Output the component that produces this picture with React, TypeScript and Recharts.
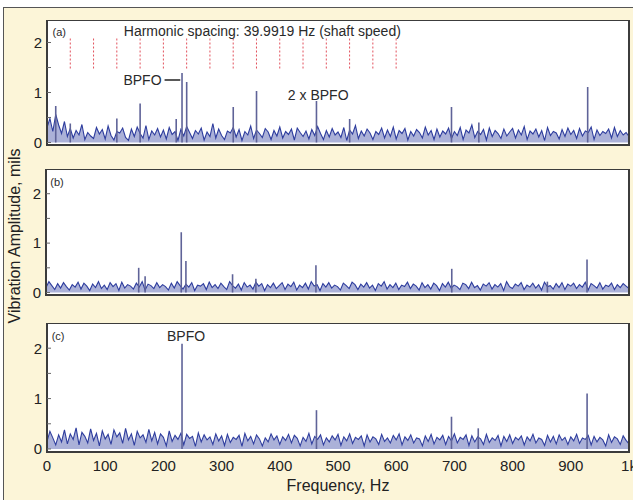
import React from 'react';
import {
  ComposedChart,
  Area,
  XAxis,
  YAxis,
  ReferenceLine,
  ReferenceArea,
  ReferenceDot,
  CartesianGrid,
} from 'recharts';

// ---------- data ----------
const FREQ_STEP = 5; // Hz between noise-floor samples

// noise floor amplitudes, in hundredths of a mil, one value every 5 Hz from 0 to 1000 Hz
const noiseA = [
  30, 48, 22, 56, 35, 18, 42, 12, 28, 9, 24, 15, 36, 6, 20, 13, 8, 30, 17, 26,
  7, 33, 14, 5, 22, 19, 29, 10, 4, 27, 12, 31, 18, 9, 34, 6, 23, 15, 28, 11,
  25, 7, 30, 16, 22, 4, 26, 13, 32, 20, 8, 24, 17, 29, 5, 21, 12, 38, 9, 27,
  14, 6, 23, 19, 30, 11, 26, 4, 22, 15, 33, 8, 25, 18, 10, 28, 21, 6, 24, 13,
  31, 9, 22, 16, 27, 5, 29, 20, 12, 23, 7, 26, 14, 32, 18, 6, 24, 11, 28, 15,
  21, 10, 30, 4, 25, 17, 34, 8, 23, 13, 27, 19, 6, 22, 16, 29, 9, 25, 12, 31,
  7, 24, 18, 28, 5, 22, 13, 26, 20, 9, 31, 15, 24, 6, 27, 11, 23, 17, 29, 8,
  22, 14, 30, 6, 25, 19, 35, 10, 22, 16, 26, 5, 29, 12, 24, 18, 8, 27, 13, 21,
  28, 9, 25, 15, 32, 6, 23, 17, 27, 11, 24, 4, 30, 14, 22, 19, 7, 26, 12, 29,
  16, 24, 8, 28, 13, 23, 20, 31, 6, 25, 14, 22, 18, 27, 9, 30, 12, 24, 15, 20,
  12,
];

const noiseB = [
  10, 22, 14, 6, 18, 9, 20, 12, 5, 16, 11, 21, 7, 19, 13, 4, 17, 10, 22, 8,
  15, 6, 20, 12, 18, 4, 21, 9, 16, 13, 7, 19, 11, 22, 5, 17, 14, 8, 20, 10,
  16, 12, 5, 19, 9, 22, 14, 7, 17, 11, 20, 4, 15, 13, 18, 6, 21, 10, 16, 8,
  19, 12, 6, 22, 14, 9, 17, 5, 20, 11, 15, 7, 21, 13, 18, 4, 16, 10, 19, 8,
  14, 20, 6, 17, 12, 21, 5, 15, 10, 19, 7, 22, 13, 16, 4, 18, 11, 20, 9, 15,
  12, 5, 19, 14, 8, 21, 16, 6, 17, 11, 20, 9, 15, 4, 18, 13, 22, 7, 16, 10,
  19, 6, 15, 12, 21, 8, 17, 13, 5, 20, 10, 16, 7, 19, 14, 4, 18, 11, 21, 9,
  15, 12, 6, 19, 16, 8, 21, 10, 14, 5, 17, 13, 20, 7, 16, 11, 18, 4, 22, 12,
  8, 17, 13, 20, 6, 15, 11, 19, 9, 16, 5, 21, 12, 14, 7, 18, 10, 20, 6, 17,
  13, 19, 8, 16, 11, 21, 5, 18, 14, 9, 20, 7, 15, 12, 19, 6, 16, 10, 18, 13,
  8,
];

const noiseC = [
  15, 35, 22, 8, 28, 14, 38, 10, 30, 19, 42, 8, 33, 25, 12, 40, 17, 31, 6, 36,
  20, 29, 9, 38, 24, 32, 11, 41, 18, 30, 7, 35, 22, 28, 13, 39, 16, 33, 10, 30,
  23, 6, 36, 15, 27, 19, 31, 8, 29, 21, 25, 5, 32, 14, 28, 18, 24, 9, 30, 16,
  26, 7, 29, 13, 23, 19, 27, 5, 31, 16, 25, 10, 28, 20, 6, 22, 14, 30, 18, 26,
  9, 24, 17, 29, 12, 27, 21, 6, 23, 15, 31, 10, 25, 19, 28, 8, 22, 14, 26, 18,
  29, 7, 24, 16, 30, 11, 23, 19, 26, 6, 28, 14, 24, 20, 9, 29, 15, 22, 12, 27,
  18, 30, 8, 24, 17, 28, 12, 22, 20, 6, 26, 15, 29, 10, 23, 18, 27, 9, 25, 16,
  30, 12, 23, 19, 28, 7, 26, 14, 24, 20, 9, 29, 13, 22, 17, 27, 6, 25, 15, 28,
  11, 23, 18, 26, 8, 24, 16, 29, 12, 22, 19, 7, 27, 14, 25, 10, 28, 17, 23, 9,
  24, 16, 29, 11, 22, 19, 27, 8, 25, 14, 23, 18, 6, 28, 13, 24, 20, 9, 26, 17,
  10,
];

// discrete spectral lines: [frequency Hz, amplitude mils]
const peaksA: [number, number][] = [
  [15, 0.73], [40, 0.38], [120, 0.48], [160, 0.78], [222, 0.47], [232, 1.39],
  [240, 1.21], [320, 0.71], [360, 1.03], [463, 0.83], [520, 0.47], [695, 0.71],
  [742, 0.4], [929, 1.11],
];
const peaksB: [number, number][] = [
  [159, 0.5], [170, 0.33], [232, 1.22], [240, 0.64], [320, 0.37], [360, 0.28],
  [463, 0.55], [696, 0.48], [860, 0.22], [928, 0.67],
];
const peaksC: [number, number][] = [
  [232, 2.09], [463, 0.77], [695, 0.64], [741, 0.41], [928, 1.1],
];

const harmonicSpacing = 39.9919;
const harmonicOrders = [1, 2, 3, 4, 5, 6, 7, 8, 9, 10, 11, 12, 13, 14, 15];
const harmonicRange: [number, number] = [1.48, 2.08];

const xTicks = [0, 100, 200, 300, 400, 500, 600, 700, 800, 900, 1000];
const xTickLabels = ['0', '100', '200', '300', '400', '500', '600', '700', '800', '900', '1k'];
const yTicks = [0, 0.5, 1, 1.5, 2];

// ---------- styling ----------
const FONT = '"Liberation Sans", Arial, sans-serif';
const NOISE_COLOR = '#2e3d9e';
const PEAK_COLOR = '#5f6398';
const FRAME_COLOR = '#3c3c3c';
const TEXT_COLOR = '#222';

const toSeries = (noise: number[]) => noise.map((v, i) => ({ f: i * FREQ_STEP, v: v / 100 }));

type Note = { x: number; y: number; text: string; size: number; position?: string };

function Panel(props: {
  top: number;
  plotH: number;
  leftW: number;
  domain: [number, number];
  noise: number[];
  peaks: [number, number][];
  showX: boolean;
  notes: Note[];
  extras?: React.ReactNode;
}) {
  const { top, plotH, leftW, domain, noise, peaks, showX, notes, extras } = props;
  const xh = showX ? 48 : 12;
  const data = toSeries(noise);
  return (
    <div style={{ position: 'absolute', left: 0, top, width: 633, height: plotH + xh }}>
      <ComposedChart
        width={633}
        height={plotH + xh}
        data={data}
        margin={{ top: 0, right: 4, bottom: 0, left: 0 }}
      >
        <CartesianGrid horizontal={false} vertical={false} fill="#ffffff" />
        <XAxis
          dataKey="f"
          type="number"
          domain={[0, 1000]}
          ticks={xTicks}
          interval={0}
          allowDataOverflow
          height={xh}
          axisLine={false}
          tickLine={false}
          tickSize={0}
          tickMargin={8}
          tick={showX ? { fontSize: 15, fill: TEXT_COLOR, fontFamily: FONT } : false}
          tickFormatter={(v: number) => xTickLabels[xTicks.indexOf(v)] ?? ''}
          label={
            showX
              ? { value: 'Frequency, Hz', position: 'insideBottom', offset: 9, fontSize: 16, fill: TEXT_COLOR, fontFamily: FONT }
              : undefined
          }
        />
        <YAxis
          type="number"
          domain={domain}
          ticks={yTicks}
          interval={0}
          allowDataOverflow
          width={leftW}
          axisLine={false}
          tickSize={-4}
          tickMargin={9}
          tickLine={{ stroke: '#666' }}
          tick={{ fontSize: 15, fill: TEXT_COLOR, fontFamily: FONT }}
          tickFormatter={(v: number) => (Number.isInteger(v) ? String(v) : '')}
        />
        <Area
          type="linear"
          dataKey="v"
          baseValue={0}
          stroke={NOISE_COLOR}
          strokeWidth={1.1}
          fill={NOISE_COLOR}
          fillOpacity={0.4}
          dot={false}
          activeDot={false}
          isAnimationActive={false}
        />
        {peaks.map(([f, h], i) => (
          <ReferenceLine
            key={'p' + i}
            segment={[{ x: f, y: 0 }, { x: f, y: h }]}
            stroke={PEAK_COLOR}
            strokeWidth={1.6}
          />
        ))}
        {extras}
        {notes.map((n, i) => (
          <ReferenceDot
            key={'n' + i}
            x={n.x}
            y={n.y}
            r={0}
            fill="none"
            stroke="none"
            label={{
              value: n.text,
              position: (n.position as any) || 'center',
              offset: 3,
              fontSize: n.size,
              fill: '#2a2a2a',
              fontFamily: FONT,
            }}
          />
        ))}
        <ReferenceArea
          x1={0}
          x2={1000}
          y1={domain[0]}
          y2={domain[1]}
          fill="none"
          stroke={FRAME_COLOR}
          strokeWidth={2}
          ifOverflow="visible"
        />
      </ComposedChart>
    </div>
  );
}

export default function App() {
  const harmonicLines = harmonicOrders.map((k) => (
    <ReferenceLine
      key={'h' + k}
      segment={[
        { x: k * harmonicSpacing, y: harmonicRange[0] },
        { x: k * harmonicSpacing, y: harmonicRange[1] },
      ]}
      stroke="#e2505c"
      strokeWidth={1}
      strokeDasharray="2 2"
    />
  ));
  const bpfoArrow = (
    <ReferenceLine
      key="arrow"
      segment={[{ x: 202, y: 1.25 }, { x: 229, y: 1.25 }]}
      stroke="#222"
      strokeWidth={1.5}
    />
  );

  return (
    <div
      style={{
        position: 'absolute',
        left: 0,
        top: 0,
        width: 633,
        height: 500,
        background: '#ffffff',
        overflow: 'hidden',
        fontFamily: FONT,
      }}
    >
      <div
        style={{
          position: 'absolute',
          left: 3,
          top: 7,
          width: 640,
          height: 500,
          background: '#fcf5d8',
          borderLeft: '1px solid #555',
          borderTop: '1px solid #555',
        }}
      />
      <Panel
        top={20}
        plotH={125}
        leftW={47}
        domain={[-0.05, 2.45]}
        noise={noiseA}
        peaks={peaksA}
        showX={false}
        extras={[...harmonicLines, bpfoArrow]}
        notes={[
          { x: 21, y: 2.2, text: '(a)', size: 11 },
          { x: 370, y: 2.23, text: 'Harmonic spacing: 39.9919 Hz (shaft speed)', size: 14 },
          { x: 202, y: 1.25, text: 'BPFO', size: 14, position: 'left' },
          { x: 466, y: 0.95, text: '2 x BPFO', size: 14 },
        ]}
      />
      <Panel
        top={169}
        plotH={126}
        leftW={46}
        domain={[-0.05, 2.5]}
        noise={noiseB}
        peaks={peaksB}
        showX={false}
        notes={[{ x: 19, y: 2.24, text: '(b)', size: 11 }]}
      />
      <Panel
        top={323}
        plotH={129}
        leftW={47}
        domain={[-0.06, 2.5]}
        noise={noiseC}
        peaks={peaksC}
        showX={true}
        notes={[
          { x: 19, y: 2.24, text: '(c)', size: 11 },
          { x: 239, y: 2.24, text: 'BPFO', size: 14 },
        ]}
      />
      <svg
        width={30}
        height={500}
        style={{ position: 'absolute', left: 0, top: 0, overflow: 'visible' }}
      >
        <text
          x={0}
          y={0}
          transform="translate(20,236) rotate(-90)"
          textAnchor="middle"
          fontSize={16}
          fill={TEXT_COLOR}
          fontFamily={FONT}
        >
          Vibration Amplitude, mils
        </text>
      </svg>
    </div>
  );
}
